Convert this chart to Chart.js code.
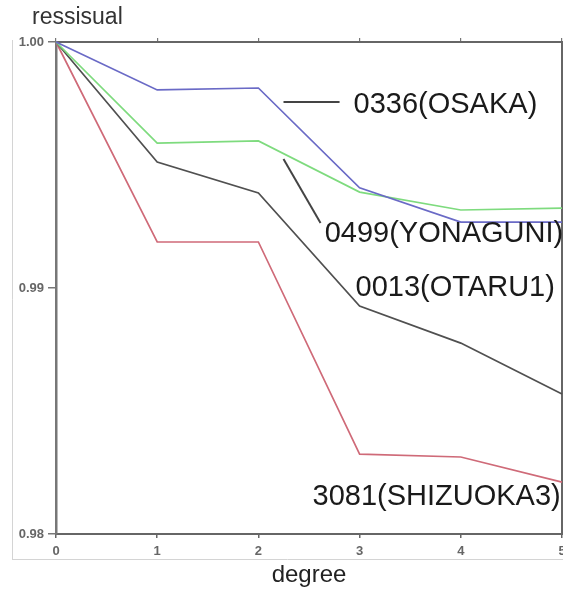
<!DOCTYPE html>
<html>
<head>
<meta charset="utf-8">
<script src="https://cdn.jsdelivr.net/npm/chart.js@4.4.1/dist/chart.umd.min.js"></script>
<style>
  html, body { margin: 0; padding: 0; background: #ffffff; }
  #wrap { width: 563px; height: 590px; position: relative; }
</style>
</head>
<body>
<div id="wrap"><canvas id="c" width="563" height="590"></canvas></div>
<script>
// ---- data ----
const degrees = ['0', '1', '2', '3', '4', '5'];
const stationNames = ['0336(OSAKA)', '0499(YONAGUNI)', '0013(OTARU1)', '3081(SHIZUOKA3)'];
const osaka    = [1.0, 0.99805, 0.99813, 0.99407, 0.99268, 0.99268];
const yonaguni = [1.0, 0.99589, 0.99598, 0.99390, 0.99317, 0.99325];
const otaru1   = [1.0, 0.99512, 0.99386, 0.98927, 0.98776, 0.98569];
const shizuoka3 = [1.0, 0.99187, 0.99187, 0.98325, 0.98313, 0.98211];
const yTickLabels = ['0.98', '0.99', '1.00'];
const yTickValues = [0.98, 0.99, 1.00];
const yAxisTitle = 'ressisual';
const xAxisTitle = 'degree';

Chart.defaults.font.family = '"Liberation Sans", Arial, sans-serif';

// annotation layout (data-space anchors)
const annotations = [
  { text: stationNames[0], x: 2.94, y: 0.99744, line: [2.248, 0.99756, 2.802, 0.99756] },
  { text: stationNames[1], x: 2.655, y: 0.99220, line: [2.248, 0.99524, 2.614, 0.99264] },
  { text: stationNames[2], x: 2.96, y: 0.98998, line: null },
  { text: stationNames[3], x: 2.535, y: 0.98152, line: null }
];

const annotationPlugin = {
  id: 'stationLabels',
  afterDatasetsDraw(chart) {
    const ctx = chart.ctx;
    const xs = chart.scales.x, ys = chart.scales.y;
    ctx.save();
    annotations.forEach(a => {
      if (a.line) {
        ctx.beginPath();
        ctx.strokeStyle = '#444';
        ctx.lineWidth = 2;
        ctx.moveTo(xs.getPixelForValue(a.line[0]), ys.getPixelForValue(a.line[1]));
        ctx.lineTo(xs.getPixelForValue(a.line[2]), ys.getPixelForValue(a.line[3]));
        ctx.stroke();
      }
      ctx.fillStyle = '#1a1a1a';
      ctx.font = '29px "Liberation Sans", Arial, sans-serif';
      ctx.textAlign = 'left';
      ctx.textBaseline = 'middle';
      ctx.fillText(a.text, xs.getPixelForValue(a.x), ys.getPixelForValue(a.y));
    });
    ctx.restore();
  }
};

const framePlugin = {
  id: 'outerFrame',
  beforeDraw(chart) {
    const ctx = chart.ctx;
    ctx.save();
    ctx.strokeStyle = '#d4d4d4';
    ctx.lineWidth = 1;
    ctx.beginPath();
    ctx.moveTo(12, 559.5);
    ctx.lineTo(563, 559.5);
    ctx.moveTo(12.5, 40);
    ctx.lineTo(12.5, 559.5);
    ctx.stroke();
    // y-axis title written horizontally above the axis
    ctx.fillStyle = '#333';
    ctx.font = '23px "Liberation Sans", Arial, sans-serif';
    ctx.textAlign = 'left';
    ctx.textBaseline = 'middle';
    ctx.fillText(yAxisTitle, 32, 18);
    ctx.restore();
  }
};

const lineDs = (label, data, color) => ({
  label, data, borderColor: color, backgroundColor: color,
  borderWidth: 1.7, pointRadius: 0, tension: 0, fill: false, clip: false
});

new Chart(document.getElementById('c'), {
  type: 'line',
  data: {
    labels: degrees,
    datasets: [
      lineDs(stationNames[0], osaka, '#6a6ac6'),
      lineDs(stationNames[1], yonaguni, '#7edb7e'),
      lineDs(stationNames[2], otaru1, '#505050'),
      lineDs(stationNames[3], shizuoka3, '#cf6a78')
    ]
  },
  options: {
    responsive: false,
    animation: false,
    layout: { padding: { left: 0, right: 0, top: 42, bottom: 0 } },
    plugins: {
      legend: { display: false },
      tooltip: { enabled: false },
      title: { display: false }
    },
    scales: {
      x: {
        type: 'category',
        position: 'bottom',
        offset: false,
        afterFit(s) { s.height = 56; s.paddingLeft = 0; s.paddingRight = 0; },
        grid: { drawOnChartArea: false, tickLength: 4, color: '#666', lineWidth: 1.5 },
        border: { color: '#666', width: 2 },
        ticks: { color: '#666', font: { size: 13, weight: 'bold' }, padding: 6, maxRotation: 0, autoSkip: false },
        title: { display: true, text: xAxisTitle, color: '#222', font: { size: 24 }, padding: { top: 0, bottom: 0 } }
      },
      xTop: {
        type: 'category',
        labels: degrees,
        position: 'top',
        offset: false,
        afterFit(s) { s.height = 0; s.paddingLeft = 0; s.paddingRight = 0; },
        grid: { drawOnChartArea: false, tickLength: 4, color: '#777', lineWidth: 1.2 },
        border: { color: '#666', width: 2 },
        ticks: { display: false }
      },
      y: {
        type: 'linear',
        position: 'left',
        min: 0.98,
        max: 1.0,
        afterFit(s) { s.width = 56; },
        afterBuildTicks(s) { s.ticks = yTickValues.map(v => ({ value: v })); },
        grid: { drawOnChartArea: false, tickLength: 8, color: '#777', lineWidth: 1.5 },
        border: { color: '#777', width: 2.5 },
        ticks: {
          color: '#666',
          font: { size: 13, weight: 'bold' },
          padding: 4,
          callback: (v) => {
            const i = yTickValues.findIndex(t => Math.abs(t - v) < 1e-9);
            return i >= 0 ? yTickLabels[i] : '';
          }
        }
      },
      yRight: {
        type: 'linear',
        position: 'right',
        min: 0.98,
        max: 1.0,
        afterFit(s) { s.width = 1; },
        grid: { display: false },
        border: { color: '#666', width: 2 },
        ticks: { display: false }
      }
    }
  },
  plugins: [annotationPlugin, framePlugin]
});
</script>
</body>
</html>
